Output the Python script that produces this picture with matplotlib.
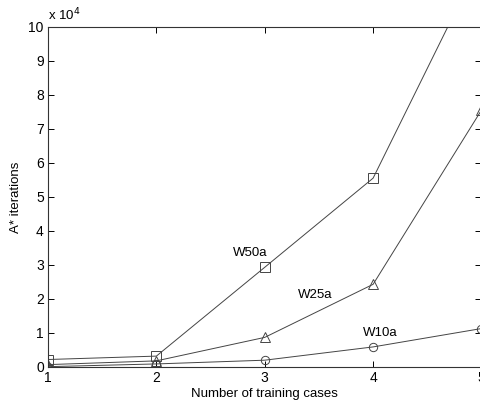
import numpy as np
import matplotlib
matplotlib.use('Agg')
import matplotlib.pyplot as plt
from matplotlib.ticker import FuncFormatter

plt.rcParams['font.family'] = ['Liberation Sans', 'DejaVu Sans']

cases = [1, 2, 3, 4, 5]
w50a = [2200, 3200, 29300, 55500, 120000]
w25a = [700, 1800, 8700, 24300, 75500]
w10a = [100, 900, 2000, 5900, 11300]

fig = plt.figure(figsize=(4.81, 4.09), dpi=100)
ax = fig.add_axes([0.0998, 0.1027, 0.9012, 0.832])

col = '#444444'
ax.plot(cases, w50a, color=col, lw=0.7, marker='s', ms=7, mfc='none', mec=col, mew=0.7)
ax.plot(cases, w25a, color=col, lw=0.7, marker='^', ms=7, mfc='none', mec=col, mew=0.7)
ax.plot(cases, w10a, color=col, lw=0.7, marker='o', ms=6, mfc='none', mec=col, mew=0.7)

ax.text(2.865, 33500, 'W50a', ha='center', va='center', fontsize=9.5)
ax.text(3.47, 21200, 'W25a', ha='center', va='center', fontsize=9.5)
ax.text(4.07, 10000, 'W10a', ha='center', va='center', fontsize=9.5)

ax.set_xlim(1, 5)
ax.set_ylim(0, 100000)
ax.set_xticks(cases)
ax.set_yticks(np.arange(0, 100001, 10000))
ax.yaxis.set_major_formatter(FuncFormatter(lambda v, p: '%d' % round(v / 10000)))
ax.tick_params(direction='in', top=True, right=True, length=4, width=0.7, labelsize=10, pad=3)
for s in ax.spines.values():
    s.set_linewidth(0.8)
    s.set_color('#333333')

ax.text(0.0, 1.01, 'x 10$^4$', transform=ax.transAxes, fontsize=9.5, ha='left', va='bottom')
ax.set_xlabel('Number of training cases', fontsize=9.5, labelpad=2)
ax.set_ylabel('A* iterations', fontsize=9.5, labelpad=5)

fig.savefig('out.png', dpi=100)
